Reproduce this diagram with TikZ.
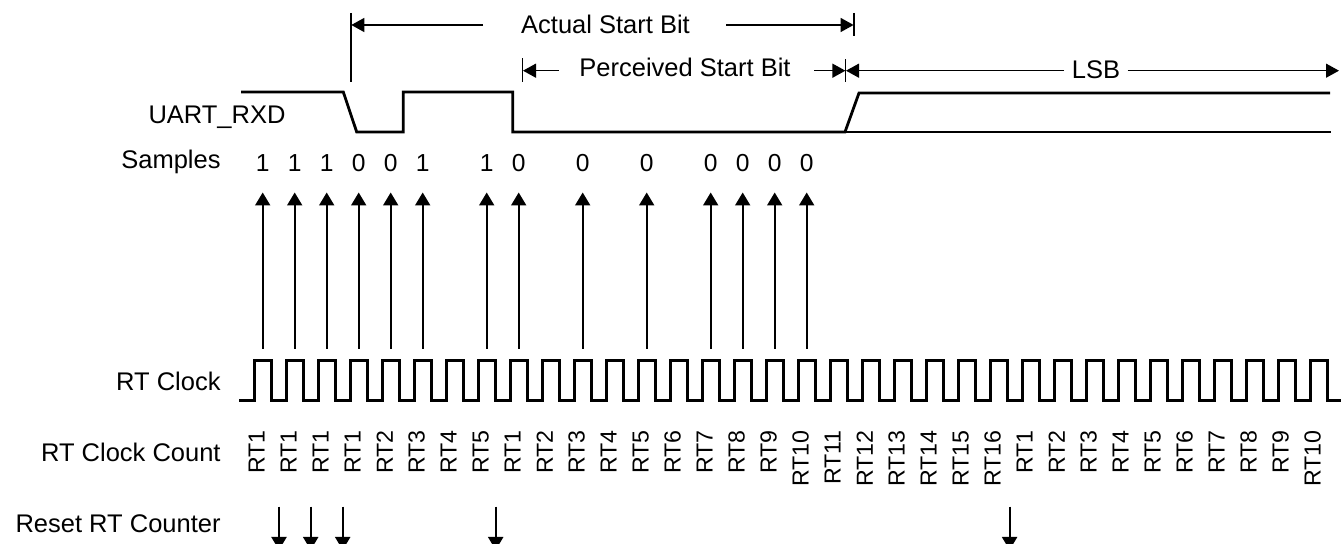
\documentclass[tikz,border=0pt]{standalone}
\usepackage{fontspec}
\setmainfont{Liberation Sans}
\usetikzlibrary{arrows.meta}
\begin{document}
\begin{tikzpicture}[x=0.5pt,y=-0.5pt,
  lbl/.style={font=\fontsize{12.75}{15}\selectfont, inner sep=0pt},
  cnt/.style={font=\fontsize{11.6}{13}\selectfont, inner sep=0pt, rotate=90, anchor=east},
  smp/.style={font=\fontsize{12.3}{14}\selectfont, inner sep=0pt, anchor=base},
  sig/.style={line width=1.4pt},
  clk/.style={line width=1.5pt},
  samparrow/.style={line width=1pt, -{Triangle[width=7.5pt,length=6.5pt]}},
  dimline/.style={line width=0.7pt},
  dimarrow/.style={line width=0.7pt, -{Triangle[width=7pt,length=6.5pt]}},
]
\useasboundingbox (0,0) rectangle (1341,544);

% left labels
\node[lbl, anchor=base] (rxd) at (217,123.3) {UART\_RXD};
\node[lbl, anchor=base east] (samples) at (221,168.3) {Samples};
\node[lbl, anchor=base east] (rtclk) at (221,390.7) {RT Clock};
\node[lbl, anchor=base east] (rtcnt) at (221,461.7) {RT Clock Count};
\node[lbl, anchor=base east] (reset) at (221,532.5) {Reset RT Counter};

% dimension texts
\node[lbl, anchor=base] (actual) at (605.5,33.5) {Actual Start Bit};
\node[lbl, anchor=base] (perc) at (685,76.5) {Perceived Start Bit};
\node[lbl, anchor=base] (lsb) at (1096,79) {LSB};

% Actual start bit dimension
\coordinate (aL) at (351,13); \coordinate (aLb) at (351,82);
\coordinate (aR) at (854,13); \coordinate (aRb) at (854,36);
\draw[dimline] (aL) -- (aLb);
\draw[dimline] (aR) -- (aRb);
\coordinate (a1) at (483,25); \coordinate (a1t) at (351.3,25);
\coordinate (a2) at (726,25); \coordinate (a2t) at (853.6,25);
\draw[dimarrow] (a1) -- (a1t);
\draw[dimarrow] (a2) -- (a2t);

% Perceived start bit dimension
\coordinate (pL) at (522.7,58.5); \coordinate (pLb) at (522.7,82.3);
\coordinate (pR) at (845.7,59.3); \coordinate (pRb) at (845.7,81.7);
\draw[dimline] (pL) -- (pLb);
\draw[dimline] (pR) -- (pRb);
\coordinate (p1) at (558.6,70.7); \coordinate (p1t) at (523,70.7);
\coordinate (p2) at (814,70.7); \coordinate (p2t) at (845.4,70.7);
\draw[dimarrow] (p1) -- (p1t);
\draw[dimarrow] (p2) -- (p2t);

% LSB dimension
\coordinate (l1) at (1064,70.7); \coordinate (l1t) at (846,70.7);
\coordinate (l2) at (1127.6,70.7); \coordinate (l2t) at (1339,70.7);
\draw[dimarrow] (l1) -- (l1t);
\draw[dimarrow] (l2) -- (l2t);

% UART_RXD waveform
\draw[sig] (241,92) -- (343.3,92) -- (356.7,132) -- (403.3,132) -- (403.3,92)
  -- (512.7,92) -- (512.7,132) -- (845,132) -- (859,93) -- (1330,93);
\draw[sig] (845,132) -- (1331,132);

% samples and sample arrows
\foreach \i/\v in {0/1,1/1,2/1,3/0,4/0,5/1,7/1,8/0,10/0,12/0,14/0,15/0,16/0,17/0} {
  \node[smp] (d\i) at ({262.7+32*\i},172) {\v};
  \coordinate (sa\i) at ({262.7+32*\i},349);
  \coordinate (sb\i) at ({262.7+32*\i},192.5);
  \draw[samparrow] (sa\i) -- (sb\i);
}

% RT clock
\draw[clk] (239,401) \foreach \i in {0,...,33}{
  -- ({254.4+32*\i},401) -- ({254.4+32*\i},361) -- ({271+32*\i},361) -- ({271+32*\i},401)}
  -- (1341,401);

% RT clock count labels
\foreach \t [count=\i from 0] in {1,1,1,1,2,3,4,5,1,2,3,4,5,6,7,8,9,10,11,12,13,14,15,16,1,2,3,4,5,6,7,8,9,10}
  \node[cnt] (c\i) at ({256.7+32*\i},430) {RT\t};

% reset arrows (heads cut by the lower edge)
\foreach \x [count=\k] in {279,310.7,342.7,495.7,1009.6} {
  \coordinate (r\k) at (\x,506.7);
  \coordinate (rt\k) at (\x,550);
  \draw[samparrow] (r\k) -- (rt\k);
}
\end{tikzpicture}
\end{document}
